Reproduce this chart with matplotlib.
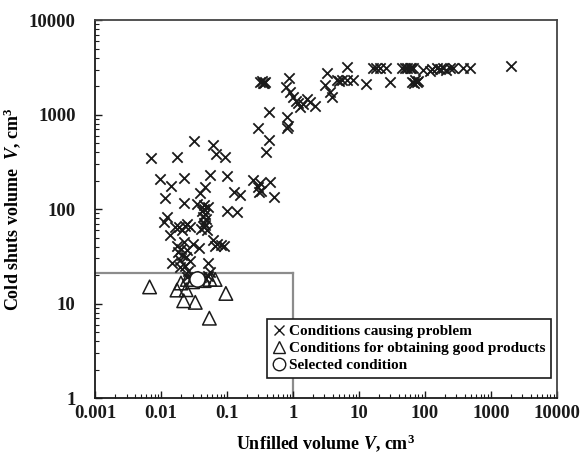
import numpy as np
import matplotlib
matplotlib.use("Agg")
import matplotlib.pyplot as plt
from matplotlib.lines import Line2D
from matplotlib.ticker import LogLocator, FixedLocator, NullFormatter

plt.rcParams['font.family'] = ['Liberation Serif', 'DejaVu Serif']
plt.rcParams['mathtext.fontset'] = 'custom'
plt.rcParams['mathtext.rm'] = 'Liberation Serif:bold'
plt.rcParams['mathtext.it'] = 'Liberation Serif:bold:italic'
plt.rcParams['mathtext.bf'] = 'Liberation Serif:bold'

# conditions causing problem (unfilled volume, cold shuts volume)
bad_x = [
    0.32, 0.34, 0.36, 0.38, 0.35,
    0.86, 0.79, 0.91, 1.0, 1.2, 1.63, 1.3, 2.17, 1.1, 1.4, 1.8,
    0.44, 0.81, 0.85, 0.81, 0.29, 0.44, 0.39,
    3.3, 3.1, 3.7, 3.9, 4.6, 5.6, 4.9, 6.6, 8.2, 6.6, 13, 16.6, 18, 21, 26, 30,
    45, 50, 53, 59, 62, 67, 64, 70, 75, 80, 68,
    95, 120, 130, 150, 170, 190, 210, 240, 270, 380, 480, 2000,
    0.25, 0.32, 0.30, 0.33, 0.31, 0.45, 0.51,
    0.126, 0.158, 0.1, 0.14, 0.1,
    0.007, 0.0174, 0.032, 0.061, 0.068, 0.094,
    0.0095, 0.0141, 0.022, 0.056, 0.0115, 0.022, 0.047, 0.039, 0.035,
    0.044, 0.045, 0.042, 0.046, 0.043, 0.048, 0.044, 0.047, 0.045, 0.05, 0.04, 0.052,
    0.0109, 0.0123, 0.0137, 0.016, 0.019, 0.023, 0.0275, 0.021, 0.025,
    0.0173, 0.02, 0.0247, 0.022, 0.031, 0.062, 0.07, 0.08, 0.089, 0.065,
    0.0146, 0.0195, 0.0195, 0.021, 0.024, 0.027, 0.052, 0.038, 0.056, 0.018, 0.023, 0.026,
    0.025, 0.03, 0.04, 0.047, 0.052, 0.028,
]
bad_y = [
    2200, 2250, 2180, 2230, 2150,
    2450, 1940, 1740, 1530, 1320, 1480, 1210, 1230, 1400, 1300, 1350,
    1075, 945, 760, 720, 715, 537, 403,
    2750, 2050, 1750, 1530, 2300, 2350, 2250, 2300, 2300, 3220, 2130, 3100, 3150, 3150, 3150, 2200,
    3150, 3100, 3150, 3150, 3100, 3150, 2200, 2300, 2200, 2250, 2150,
    3000, 2900, 3050, 3100, 3050, 3100, 3000, 3100, 3100, 3100, 3100, 3250,
    203, 188, 172, 155, 150, 195, 135,
    152, 140, 95, 92, 225,
    344, 357, 528, 475, 382, 357,
    208, 175, 211, 229, 130, 117, 172, 149, 114,
    110, 100, 95, 88, 82, 78, 72, 68, 65, 60, 62, 105,
    73, 83, 53, 65, 65, 66, 65, 60, 70,
    41, 38, 37, 45, 43, 47, 43, 42, 41, 41,
    26.6, 29, 24.5, 33, 31, 28, 26.6, 38.5, 21.6, 35, 25, 22,
    19, 19.5, 19, 18.5, 19.5, 18,
]

# conditions for obtaining good products
good_x = [0.0067, 0.0174, 0.024, 0.022, 0.033, 0.054, 0.096, 0.066, 0.025, 0.03, 0.045, 0.055, 0.02]
good_y = [15, 13.9, 14, 10.7, 10.3, 7.0, 12.8, 18, 18, 17, 17.5, 18, 16.5]

# selected condition
sel_x = [0.035]
sel_y = [18]

# acceptable region boundary
limit_x = 1
limit_y = 21

fig = plt.figure(figsize=(5.8, 4.57), dpi=100)
ax = fig.add_axes([0.164, 0.129, 0.796, 0.827])

ax.plot([1e-3, limit_x], [limit_y, limit_y], color='#8c8c8c', lw=1.6, zorder=1)
ax.plot([limit_x, limit_x], [1, limit_y], color='#8c8c8c', lw=1.6, zorder=1)

ax.scatter(bad_x, bad_y, marker='x', s=55, color='#1a1a1a', linewidths=1.3, zorder=3)
ax.scatter(good_x, good_y, marker='^', s=95, facecolors='none', edgecolors='#1a1a1a',
           linewidths=1.1, zorder=2)
ax.scatter(sel_x, sel_y, marker='o', s=120, facecolors='white', edgecolors='#1a1a1a',
           linewidths=1.1, zorder=4)

ax.set_xscale('log')
ax.set_yscale('log')
ax.set_xlim(1e-3, 1e4)
ax.set_ylim(1, 1e4)

xt = [0.001, 0.01, 0.1, 1, 10, 100, 1000, 10000]
xt_labels = ['0.001', '0.01', '0.1', '1', '10', '100', '1000', '10000']
yt = [1, 10, 100, 1000, 10000]
yt_labels = ['1', '10', '100', '1000', '10000']
ax.xaxis.set_major_locator(FixedLocator(xt))
ax.set_xticklabels(xt_labels)
ax.yaxis.set_major_locator(FixedLocator(yt))
ax.set_yticklabels(yt_labels)
ax.xaxis.set_minor_locator(LogLocator(base=10, subs=np.arange(2, 10)))
ax.yaxis.set_minor_locator(LogLocator(base=10, subs=np.arange(2, 10)))
ax.xaxis.set_minor_formatter(NullFormatter())
ax.yaxis.set_minor_formatter(NullFormatter())

ax.tick_params(which='both', direction='in', top=False, right=False, colors='#1a1a1a')
ax.tick_params(which='major', length=5, width=1, labelsize=13.5)
ax.tick_params(axis='x', which='major', pad=5)
ax.tick_params(axis='y', which='major', pad=14)
ax.tick_params(which='minor', length=3, width=0.8)
for lab in ax.get_xticklabels() + ax.get_yticklabels():
    lab.set_fontweight('bold')

for side in ['left', 'bottom']:
    ax.spines[side].set_linewidth(1.3)
    ax.spines[side].set_color('#1a1a1a')
for side in ['top', 'right']:
    ax.spines[side].set_linewidth(1.3)
    ax.spines[side].set_color('#444444')

ax.set_xlabel(r'Unfilled volume $V$, cm$^\mathbf{3}$', fontsize=13, fontweight='bold', labelpad=7)
ax.set_ylabel(r'Cold shuts volume  $V$, cm$^\mathbf{3}$', fontsize=13, fontweight='bold', labelpad=4)

handles = [
    Line2D([], [], ls='none', marker='x', ms=6.5, mew=1.0, color='#1a1a1a'),
    Line2D([], [], ls='none', marker='^', ms=9, mew=1.0, mfc='none', mec='#1a1a1a'),
    Line2D([], [], ls='none', marker='o', ms=9, mew=1.0, mfc='white', mec='#1a1a1a'),
]
labels = ['Conditions causing problem', 'Conditions for obtaining good products', 'Selected condition']
leg = ax.legend(handles, labels, loc='lower right', bbox_to_anchor=(0.988, 0.053),
                frameon=True, fancybox=False, framealpha=1, edgecolor='#1a1a1a',
                prop={'weight': 'bold', 'size': 11}, handlelength=0.8,
                handletextpad=0.2, borderpad=0.4, labelspacing=0.2, borderaxespad=0)
leg.get_frame().set_linewidth(1.2)

fig.savefig('out.png', dpi=100)
